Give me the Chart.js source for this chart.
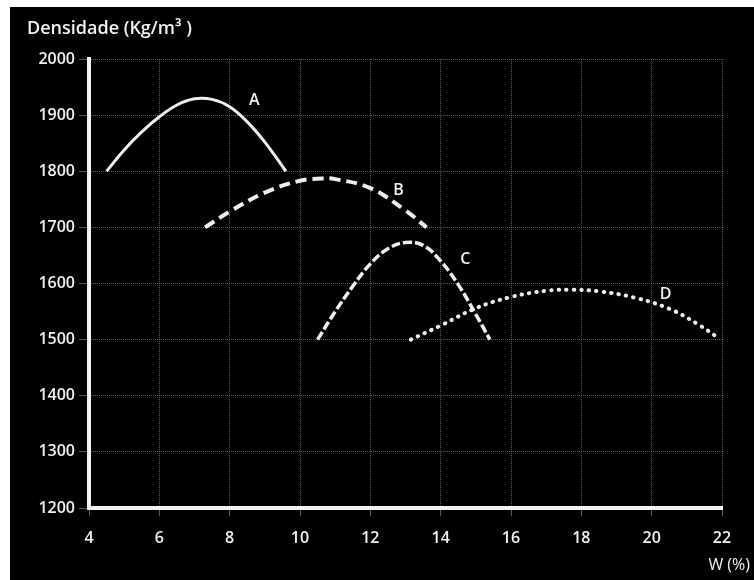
<!DOCTYPE html>
<html>
<head>
<meta charset="utf-8">
<script src="https://cdn.jsdelivr.net/npm/chart.js@4.4.0/dist/chart.umd.min.js"></script>
<style>
  html, body { margin: 0; padding: 0; background: #fff; }
  #wrap { width: 754px; height: 580px; position: relative; }
</style>
</head>
<body>
<div id="wrap"><canvas id="chart"></canvas></div>
<script>
// compaction curves: moisture content W (%) vs dry density (Kg/m3)
const curveNames = ['A', 'B', 'C', 'D'];

const wA = [4.5, 5.0, 5.5, 6.0, 6.5, 7.0, 7.5, 8.0, 8.5, 9.0, 9.6];
const densA = [1800, 1838, 1870, 1897, 1918, 1929, 1928, 1915, 1888, 1852, 1800];

const wB = [7.3, 8.0, 9.0, 10.0, 10.6, 11.0, 12.0, 13.0, 13.6];
const densB = [1700, 1728, 1762, 1783, 1787, 1786, 1770, 1730, 1700];

const wC = [10.5, 11.0, 11.5, 12.0, 12.5, 13.0, 13.5, 14.0, 14.5, 15.0, 15.4];
const densC = [1500, 1550, 1595, 1635, 1662, 1673, 1668, 1640, 1598, 1545, 1500];

const wD = [13.15, 14.0, 15.0, 16.0, 17.0, 17.7, 18.5, 19.5, 20.5, 21.3, 21.9];
const densD = [1500, 1525, 1556, 1576, 1587, 1589, 1586, 1575, 1555, 1528, 1503];

// where each curve letter sits (W, density)
const labelW = [8.7, 12.8, 14.7, 20.4];
const labelDens = [1927, 1766, 1643, 1580];

const xTicks = [4, 6, 8, 10, 12, 14, 16, 18, 20, 22];
const yTicks = [1200, 1300, 1400, 1500, 1600, 1700, 1800, 1900, 2000];

const toPoints = (xs, ys) => xs.map((x, i) => ({ x: x, y: ys[i] }));

const lineColor = '#eeeeee';
const gridColor = 'rgba(150,150,150,0.6)';
const font = '"Open Sans", "DejaVu Sans", sans-serif';

const decorations = {
  id: 'decorations',
  beforeDraw(chart) {
    const ctx = chart.ctx;
    ctx.save();
    ctx.fillStyle = '#fff';
    ctx.fillRect(0, 0, chart.width, chart.height);
    ctx.fillStyle = '#000';
    ctx.fillRect(10, 7, chart.width - 10, chart.height - 7);
    ctx.restore();
  },
  afterDraw(chart) {
    const ctx = chart.ctx;
    const xs = chart.scales.x, ys = chart.scales.y;
    ctx.save();
    ctx.fillStyle = '#f2f2f2';
    ctx.textBaseline = 'middle';
    ctx.font = '600 18px ' + font;
    ctx.textAlign = 'left';
    ctx.fillText('Densidade (Kg/m³ )', 27, 29);
    ctx.font = '16px ' + font;
    ctx.textAlign = 'right';
    ctx.fillText('W (%)', 750, 565);
    ctx.font = '600 16px ' + font;
    ctx.textAlign = 'center';
    curveNames.forEach((name, i) => {
      ctx.fillText(name, xs.getPixelForValue(labelW[i]), ys.getPixelForValue(labelDens[i]));
    });
    ctx.restore();
  }
};

const curveStyle = {
  showLine: true,
  pointRadius: 0,
  fill: false,
  borderColor: lineColor,
  tension: 0.4
};

new Chart(document.getElementById('chart'), {
  type: 'scatter',
  data: {
    datasets: [
      { ...curveStyle, label: 'A', data: toPoints(wA, densA), borderWidth: 3 },
      { ...curveStyle, label: 'B', data: toPoints(wB, densB), borderWidth: 4, borderDash: [11, 6] },
      { ...curveStyle, label: 'C', data: toPoints(wC, densC), borderWidth: 3.5, borderDash: [9, 3] },
      { ...curveStyle, label: 'D', data: toPoints(wD, densD), borderWidth: 4, borderDash: [0.5, 7], borderCapStyle: 'round' }
    ]
  },
  options: {
    responsive: true,
    maintainAspectRatio: false,
    animation: false,
    layout: { padding: { left: 10, top: 59, right: 32, bottom: 0 } },
    plugins: { legend: { display: false }, tooltip: { enabled: false } },
    scales: {
      x: {
        type: 'linear',
        min: 4, max: 22,
        afterBuildTicks: (s) => { s.ticks = xTicks.map(v => ({ value: v })); },
        afterFit: (s) => { s.height = 72; },
        grid: { color: gridColor, lineWidth: 1, tickLength: 8 },
        border: { color: '#f4f4f4', width: 4, dash: [1, 1] },
        ticks: { color: '#f2f2f2', padding: 13, callback: (v) => String(v), font: { family: font, size: 16, weight: '600' } }
      },
      y: {
        type: 'linear',
        min: 1200, max: 2000,
        afterBuildTicks: (s) => { s.ticks = yTicks.map(v => ({ value: v })); },
        afterFit: (s) => { s.width = 79; },
        grid: { color: gridColor, lineWidth: 1, tickLength: 10 },
        border: { color: '#f4f4f4', width: 4, dash: [1, 1] },
        ticks: { color: '#f2f2f2', padding: 4, callback: (v) => String(v), font: { family: font, size: 16, weight: '600' } }
      }
    }
  },
  plugins: [decorations]
});
</script>
</body>
</html>
